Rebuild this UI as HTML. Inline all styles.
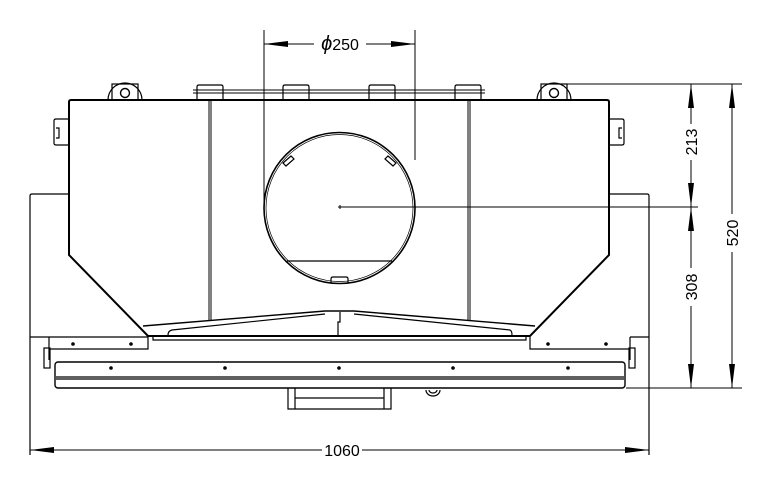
<!DOCTYPE html>
<html><head><style>html,body{margin:0;padding:0;background:#fff}svg{display:block}</style></head>
<body>
<svg width="777" height="483" viewBox="0 0 777 483" xmlns="http://www.w3.org/2000/svg" font-family="Liberation Sans, sans-serif">
<defs>
<marker id="a" viewBox="0 0 24 6" refX="24" refY="3" markerWidth="24" markerHeight="6" markerUnits="userSpaceOnUse" orient="auto-start-reverse"><path d="M0,0 L24,3 L0,6 Z" fill="#000"/></marker>
</defs>
<g fill="none" stroke="#000" stroke-width="1.2">
<!-- outer side panels -->
<path d="M30,455 V196 Q30,194 32,194 H69"/>
<path d="M649,455 V196 Q649,194 647,194 H609"/>
<path d="M49,337 V360"/><path d="M30,337 H49"/>
<path d="M630,337 V360"/><path d="M649,337 H630"/>
<!-- main body -->
<path d="M69,255 V102 Q69,100 71,100 H607 Q609,100 609,102 V255 L530,336 H148 Z" stroke-width="2"/>
<path d="M209,100 V320 M211,100 V320" stroke-width="1"/>
<path d="M468,100 V320 M470,100 V320" stroke-width="1"/>
<!-- brackets -->
<path d="M49,337 H148 V349 H49"/>
<path d="M530,337 V349 H630"/>
<!-- tray -->
<path d="M143,326 L325,311 H354 L535,326" stroke-width="1.4"/>
<path d="M168,335 Q168,331 172,330 L325,314 M354,314 L510,330 Q512,331 512,335"/>
<path d="M153,336 V340 H526 V336"/>
<path d="M340,312 V322 H338 V336"/>
<!-- bottom bar -->
<rect x="55" y="362" width="570" height="26" rx="3" stroke-width="1.4"/>
<path d="M56,377 H624 M56,379 H624" stroke-width="1.2"/>
<rect x="44" y="348" width="6" height="20"/><rect x="629" y="348" width="6" height="20"/>
<!-- bottom bracket -->
<path d="M288,388 V409 H391 V388 M295,388 V409 M384,388 V409 M295,398 H384"/>
<path d="M426,390 A7,6 0 0 0 440,390 M429,390 A4,3 0 0 0 437,390"/>
<!-- circle -->
<circle cx="339.5" cy="208" r="75.5" stroke-width="1.6"/>
<circle cx="339.5" cy="208" r="73.5" stroke-width="0.7"/>
<path d="M287,261 H392"/>
<path d="M331,283 V279 Q331,277 333,277 H346 Q348,277 348,279 V283"/>
<path d="M283,163 l8,-7 l3,3 l-8,7 Z M396,163 l-8,-7 l-3,3 l8,7 Z"/>
<!-- top tabs & band -->
<path d="M193,90 H485 M193,93 H485" stroke-width="1"/>
<path d="M197,100 V87 Q197,85 199,85 H221 Q223,85 223,87 V100"/>
<path d="M283,100 V87 Q283,85 285,85 H307 Q309,85 309,87 V100"/>
<path d="M369,100 V87 Q369,85 371,85 H393 Q395,85 395,87 V100"/>
<path d="M455,100 V87 Q455,85 457,85 H479 Q481,85 481,87 V100"/>
<!-- lugs -->
<path d="M108,100 A17,17 0 0 1 142,100"/><rect x="112" y="84" width="26" height="16"/><circle cx="125" cy="93" r="4.5" stroke-width="1.4"/>
<path d="M537,100 A17,17 0 0 1 571,100"/><rect x="541" y="84" width="26" height="16"/><circle cx="554" cy="93" r="4.5" stroke-width="1.4"/>
<!-- side tabs -->
<path d="M69,119 H56 Q54,119 54,121 V143 Q54,145 56,145 H69 M56,128 H59 V138 H56"/>
<path d="M609,119 H622 Q624,119 624,121 V143 Q624,145 622,145 H609 M622,128 H619 V138 H622"/>
<!-- dots -->
<g fill="#000" stroke="none">
<circle cx="73" cy="344" r="1.8"/><circle cx="131" cy="344" r="1.8"/>
<circle cx="548" cy="344" r="1.8"/><circle cx="606" cy="344" r="1.8"/>
<circle cx="111" cy="368" r="1.8"/><circle cx="225" cy="368" r="1.8"/><circle cx="339" cy="368" r="1.8"/><circle cx="453" cy="368" r="1.8"/><circle cx="568" cy="368" r="1.8"/>
</g>
<!-- dimensions -->
<g stroke-width="1">
<path d="M264,30 V208 M415,30 V160"/>
<path d="M264,44 H314" marker-start="url(#a)"/><path d="M366,44 H415" marker-end="url(#a)"/>
<path d="M340,207 H698 M338,207 H342 M340,205 V209"/>
<path d="M565,84 H742 M626,388 H742"/>
<path d="M691,84 V124" marker-start="url(#a)"/><path d="M691,160 V207" marker-end="url(#a)"/>
<path d="M691,207 V268" marker-start="url(#a)"/><path d="M691,306 V388" marker-end="url(#a)"/>
<path d="M732,84 V214" marker-start="url(#a)"/><path d="M732,252 V388" marker-end="url(#a)"/>
<path d="M30,450 H322" marker-start="url(#a)"/><path d="M362,450 H649" marker-end="url(#a)"/>
</g>
</g>
<g font-size="16" fill="#000">
<text x="340" y="50" text-anchor="middle"><tspan font-style="italic" font-size="20">ϕ</tspan>250</text>
<text x="342" y="456" text-anchor="middle">1060</text>
<text transform="translate(697,142) rotate(-90)" text-anchor="middle">213</text>
<text transform="translate(697,287) rotate(-90)" text-anchor="middle">308</text>
<text transform="translate(738,233) rotate(-90)" text-anchor="middle">520</text>
</g>
</svg>
</body></html>
